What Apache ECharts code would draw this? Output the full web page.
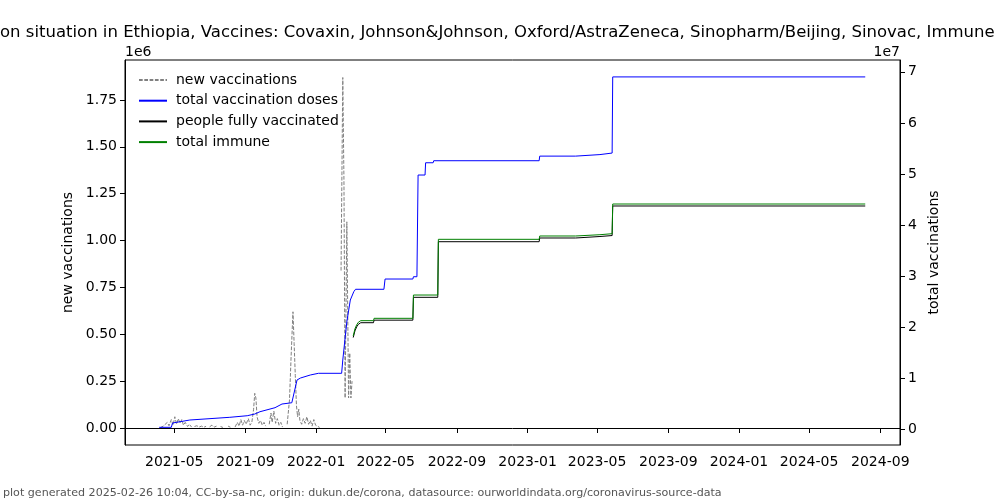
<!DOCTYPE html>
<html><head><meta charset="utf-8">
<script src="https://cdn.jsdelivr.net/npm/echarts@6/dist/echarts.min.js"></script>
<style>html,body{margin:0;padding:0;background:#fff}#c{width:1000px;height:500px}</style>
</head><body><div id="c"></div>
<script>
const titleText = 'on situation in Ethiopia, Vaccines: Covaxin, Johnson&Johnson, Oxford/AstraZeneca, Sinopharm/Beijing, Sinovac, Immune';
const footerText = 'plot generated 2025-02-26 10:04, CC-by-sa-nc, origin: dukun.de/corona, datasource: ourworldindata.org/coronavirus-source-data';
const seriesNames = ['new vaccinations', 'total vaccination doses', 'people fully vaccinated', 'total immune'];
const xTickLabels = ['2021-05','2021-09','2022-01','2022-05','2022-09','2023-01','2023-05','2023-09','2024-01','2024-05','2024-09'];
const leftTicks = [0, 250000, 500000, 750000, 1000000, 1250000, 1500000, 1750000];
const rightTicks = [0, 10000000, 20000000, 30000000, 40000000, 50000000, 60000000, 70000000];

// new vaccinations (null = gap)
const newVaccDates = [
 '2021-04-07','2021-04-12','2021-04-15','2021-04-19','2021-04-22','2021-04-26','2021-04-29','2021-05-02','2021-05-05','2021-05-08',
 '2021-05-11','2021-05-14','2021-05-17','2021-05-20','2021-05-24','2021-05-27','2021-05-31','2021-06-02',
 '2021-06-05','2021-06-09','2021-06-13','2021-06-17','2021-06-21','2021-06-25','2021-06-28',
 '2021-07-01','2021-07-05','2021-07-09','2021-07-13','2021-07-16',
 '2021-07-20','2021-07-24','2021-07-27',
 '2021-08-02','2021-08-06','2021-08-09',
 '2021-08-14','2021-08-18','2021-08-21','2021-08-24','2021-08-27','2021-08-30','2021-09-02','2021-09-06','2021-09-09','2021-09-12',
 '2021-09-15','2021-09-17','2021-09-19','2021-09-21','2021-09-24','2021-09-27','2021-09-30','2021-10-03','2021-10-06','2021-10-08',
 '2021-10-12','2021-10-15','2021-10-17','2021-10-20','2021-10-23','2021-10-26','2021-10-29','2021-11-01','2021-11-04','2021-11-07',
 '2021-11-12','2021-11-16','2021-11-19','2021-11-22','2021-11-24','2021-11-26','2021-11-28','2021-11-30','2021-12-02','2021-12-04',
 '2021-12-07','2021-12-10','2021-12-13','2021-12-16','2021-12-19','2021-12-22','2021-12-25','2021-12-28','2021-12-31','2022-01-03',
 '2022-01-07','2022-01-10',
 '2022-02-13','2022-02-16','2022-02-18','2022-02-20','2022-02-23','2022-02-26','2022-02-28','2022-03-02','2022-03-04'
];
const newVaccValues = [
 2000, 10000, 4000, 30000, 12000, 45000, 15000, 60000, 20000, 50000,
 25000, 45000, 15000, 30000, 8000, 20000, 5000, null,
 8000, 12000, 5000, 10000, 4000, 9000, null,
 6000, 15000, 5000, 10000, null,
 8000, 3000, null,
 10000, 4000, null,
 5000, 30000, 10000, 45000, 15000, 40000, 20000, 50000, 15000, 30000,
 100000, 185000, 160000, 60000, 25000, 40000, 15000, 30000, 10000, null,
 20000, 80000, 30000, 90000, 25000, 50000, 15000, 30000, 5000, null,
 20000, 150000, 400000, 620000, 450000, 280000, 120000, 60000, 100000, 40000,
 20000, 50000, 25000, 60000, 20000, 40000, 10000, 45000, 15000, 5000,
 3000, null,
 840000, 1870000, 1320000, 160000, 1100000, 160000, 400000, 160000, 250000
];

// total vaccination doses
const totalDosesDates = [
 '2021-04-05','2021-04-26','2021-04-28','2021-05-28','2021-08-05','2021-09-04','2021-09-17','2021-09-26','2021-10-22','2021-11-03',
 '2021-11-20','2021-11-29','2021-12-05','2021-12-22','2022-01-05','2022-02-14','2022-02-16','2022-02-23','2022-03-01','2022-03-07',
 '2022-03-10','2022-04-28','2022-04-30','2022-06-17','2022-06-18','2022-06-24','2022-06-26','2022-07-08','2022-07-09','2022-07-22',
 '2022-07-23','2023-01-21','2023-01-22','2023-03-25','2023-03-26','2023-05-06','2023-05-07','2023-05-27','2023-05-28','2024-08-06'
];
const totalDosesValues = [
 430000, 430000, 1270000, 1860000, 2390000, 2700000, 3030000, 3480000, 4270000, 4990000,
 5240000, 9690000, 10080000, 10670000, 11000000, 11000000, 13600000, 21100000, 25340000, 26970000,
 27440000, 27440000, 29450000, 29450000, 29900000, 29900000, 49800000, 49800000, 52200000, 52200000,
 52600000, 52600000, 53500000, 53500000, 53800000, 53800000, 54100000, 54100000, 69000000, 69000000
];

// people fully vaccinated & total immune
const fullyDates = [
 '2022-03-06','2022-03-09','2022-03-12','2022-03-15','2022-03-19','2022-04-10','2022-04-11','2022-06-17','2022-06-18','2022-07-30',
 '2022-07-31','2023-01-21','2023-01-22','2023-03-25','2023-03-26','2023-05-06','2023-05-07','2023-05-27','2023-05-28','2024-08-06'
];
const fullyValues = [
 18000000, 19300000, 20100000, 20600000, 20900000, 20900000, 21400000, 21400000, 25870000, 25870000,
 36750000, 36750000, 37480000, 37480000, 37770000, 37770000, 37960000, 37960000, 43740000, 43740000
];
const immuneValues = [
 18300000, 19700000, 20500000, 21000000, 21300000, 21300000, 21760000, 21760000, 26320000, 26320000,
 37220000, 37220000, 37870000, 37870000, 38120000, 38120000, 38320000, 38320000, 44130000, 44130000
];

const T = s => echarts.number.parseDate(s).getTime();
const zip = (d, v) => d.map((s, i) => [T(s), v[i] == null ? '-' : v[i]]);
const xTickValues = xTickLabels.map(s => T(s + '-01'));
const font = 'DejaVu Sans';

const chart = echarts.init(document.getElementById('c'), null, {renderer: 'canvas'});
chart.setOption({
  animation: false,
  backgroundColor: '#fff',
  grid: {left: 125, right: 100, top: 60, bottom: 55, show: true, borderColor: '#000', borderWidth: 1, containLabel: false},
  xAxis: {
    type: 'value',
    min: T('2021-02-05'),
    max: T('2024-10-05'),
    axisLine: {lineStyle: {color: '#000', width: 1}},
    axisTick: {show: true, length: 5, lineStyle: {color: '#000'}, customValues: xTickValues},
    axisLabel: {
      customValues: xTickValues, margin: 10, color: '#000', fontSize: 14, fontFamily: font,
      formatter: v => { let best = 0, bd = Infinity; xTickValues.forEach((t, i) => { const d = Math.abs(t - v); if (d < bd) { bd = d; best = i; } }); return xTickLabels[best]; },
      hideOverlap: false
    },
    splitLine: {show: false}
  },
  yAxis: [
    {
      type: 'value', position: 'left', min: -90700, max: 1963400,
      name: 'new vaccinations', nameLocation: 'middle', nameGap: 43,
      nameTextStyle: {color: '#000', fontSize: 14, fontFamily: font},
      axisLine: {show: true, lineStyle: {color: '#000'}},
      axisTick: {show: true, length: 5, lineStyle: {color: '#000'}, customValues: leftTicks},
      axisLabel: {customValues: leftTicks, margin: 8, color: '#000', fontSize: 14, fontFamily: font,
        formatter: v => (v / 1e6).toFixed(2)},
      splitLine: {show: false}
    },
    {
      type: 'value', position: 'right', min: -3030000, max: 72310000,
      name: 'total vaccinations', nameLocation: 'middle', nameGap: 20,
      nameTextStyle: {color: '#000', fontSize: 14, fontFamily: font},
      axisLine: {show: true, lineStyle: {color: '#000'}},
      axisTick: {show: true, length: 5, lineStyle: {color: '#000'}, customValues: rightTicks},
      axisLabel: {customValues: rightTicks, margin: 8, color: '#000', fontSize: 14, fontFamily: font,
        formatter: v => String(Math.round(v / 1e7))},
      splitLine: {show: false}
    }
  ],
  legend: {
    orient: 'vertical', left: 133, top: 68, itemWidth: 28, itemHeight: 14, itemGap: 6.7,
    itemStyle: {opacity: 0},
    textStyle: {color: '#000', fontSize: 14, fontFamily: font, padding: [0, 0, 0, 4]},
    data: seriesNames
  },
  graphic: [
    {type: 'text', left: 0, top: 24, style: {text: titleText, fontSize: 16.5, fontFamily: font, fill: '#000'}},
    {type: 'text', left: 125, top: 45, style: {text: '1e6', fontSize: 14, fontFamily: font, fill: '#000'}},
    {type: 'text', right: 100, top: 45, style: {text: '1e7', fontSize: 14, fontFamily: font, fill: '#000'}},
    {type: 'text', left: 3, top: 488, style: {text: footerText, fontSize: 11.1, fontFamily: font, fill: '#555'}}
  ],
  series: [
    {name: seriesNames[0], type: 'line', yAxisIndex: 0, showSymbol: false, symbol: 'none', connectNulls: false,
     lineStyle: {color: '#808080', width: 1, type: [3.7, 1.6]}, itemStyle: {color: '#808080'},
     data: zip(newVaccDates, newVaccValues)},
    {name: seriesNames[1], type: 'line', yAxisIndex: 1, showSymbol: false, symbol: 'none',
     lineStyle: {color: '#0000ff', width: 1}, itemStyle: {color: '#0000ff'},
     data: zip(totalDosesDates, totalDosesValues)},
    {name: seriesNames[2], type: 'line', yAxisIndex: 1, showSymbol: false, symbol: 'none',
     lineStyle: {color: '#000000', width: 1}, itemStyle: {color: '#000000'},
     data: zip(fullyDates, fullyValues)},
    {name: seriesNames[3], type: 'line', yAxisIndex: 1, showSymbol: false, symbol: 'none',
     lineStyle: {color: '#008000', width: 1}, itemStyle: {color: '#008000'},
     data: zip(fullyDates, immuneValues)}
  ]
});
</script></body></html>
